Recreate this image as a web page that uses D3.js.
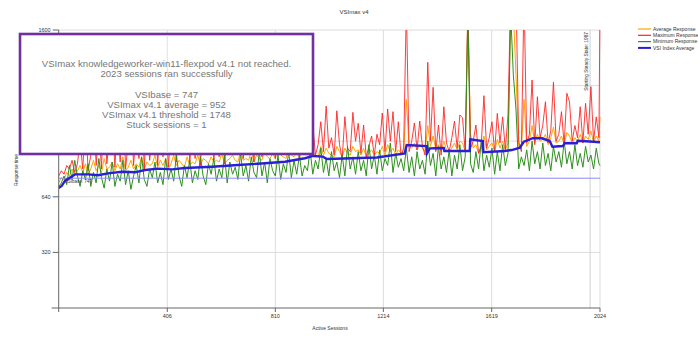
<!DOCTYPE html>
<html><head><meta charset="utf-8">
<script src="https://cdn.jsdelivr.net/npm/d3@7"></script>
<style>html,body{margin:0;padding:0;background:#fff;}svg{display:block;font-family:"Liberation Sans",Arial,sans-serif;}</style>
</head><body>
<svg id="chart" width="698" height="338"></svg>
<script>
// ---- data ----
const sessions = d3.range(0, 2021, 10).concat([2024]);
const maxResp = [
 760, 790, 770, 820, 800, 850, 780, 830, 960, 800,
 1100, 790, 880, 1200, 820, 1050, 800, 1250, 830, 990,
 1150, 810, 1080, 840, 1300, 800, 960, 1180, 820, 1050,
 860, 1240, 800, 1120, 850, 1000, 1270, 820, 1090, 870,
 1190, 810, 1030, 1300, 840, 1110, 880, 980, 1230, 830,
 1060, 860, 1280, 820, 1140, 900, 1010, 1210, 850, 1080,
 870, 1260, 830, 996, 880, 1170, 900, 928, 1290, 860,
 1050, 890, 1220, 840, 1110, 957, 870, 1300, 900, 1020,
 1180, 860, 1250, 900, 1090, 880, 1310, 910, 1040, 1200,
 870, 1150, 920, 1280, 890, 1060, 880, 940, 1072, 900,
 1162, 920, 980, 880, 1135, 940, 860, 1101, 920, 900,
 1126, 960, 1063, 890, 1053, 870, 930, 990, 880, 1000,
 940, 1122, 900, 1145, 960, 1130, 900, 1072, 880, 920,
 1750, 900, 960, 1065, 910, 1076, 930, 880, 1414, 960,
 1270, 900, 1053, 880, 1158, 950, 900, 980, 1076, 920,
 1111, 1095, 900, 1750, 920, 960, 1053, 890, 940, 1222,
 920, 980, 1072, 900, 1120, 950, 1100, 910, 1110, 1800,
 1800, 1800, 960, 900, 1800, 950, 1000, 1312, 940, 1216,
 980, 1050, 1187, 950, 1020, 1299, 960, 1000, 1130, 940,
 1236, 1187, 960, 1050, 980, 1158, 950, 1178, 1000, 1274,
 960, 1100, 980, 1750];
const avgResp = [
 720, 750, 740, 780, 760, 800, 770, 790, 820, 780,
 830, 770, 800, 850, 790, 820, 780, 860, 800, 810,
 840, 790, 830, 800, 870, 790, 810, 850, 800, 830,
 810, 870, 800, 840, 820, 830, 880, 810, 850, 820,
 860, 800, 830, 880, 820, 850, 830, 810, 870, 820,
 840, 830, 880, 820, 860, 850, 830, 870, 840, 850,
 840, 890, 830, 850, 860, 880, 850, 840, 900, 850,
 860, 850, 900, 840, 880, 860, 850, 910, 870, 860,
 890, 860, 910, 880, 870, 860, 920, 880, 870, 900,
 860, 910, 890, 920, 870, 900, 880, 870, 930, 880,
 920, 890, 880, 870, 930, 900, 870, 920, 890, 880,
 930, 900, 910, 880, 920, 870, 890, 910, 880, 900,
 890, 930, 880, 940, 900, 920, 880, 910, 890, 900,
 1200, 930, 920, 950, 910, 940, 920, 900, 1050, 930,
 990, 910, 940, 900, 960, 910, 900, 920, 950, 910,
 960, 950, 900, 1700, 1000, 920, 940, 890, 920, 990,
 910, 930, 950, 900, 970, 920, 960, 910, 950, 1700,
 1700, 1340, 930, 920, 1200, 930, 960, 1050, 950, 1000,
 960, 970, 1000, 940, 980, 1040, 950, 960, 990, 940,
 1010, 990, 950, 980, 960, 1000, 950, 990, 970, 1020,
 950, 990, 960, 1100];
const minResp = [
 698, 720, 760, 710, 820, 740, 850, 760, 700, 790,
 740, 830, 700, 780, 720, 860, 750, 690, 800, 730,
 840, 700, 770, 730, 850, 710, 790, 683, 760, 820,
 720, 870, 740, 700, 800, 750, 840, 720, 780, 710,
 860, 740, 800, 730, 880, 760, 700, 820, 750, 850,
 720, 790, 740, 870, 760, 710, 830, 770, 860, 730,
 800, 750, 880, 720, 840, 770, 810, 740, 890, 760,
 820, 730, 870, 780, 750, 900, 760, 840, 720, 860,
 790, 760, 880, 740, 830, 780, 900, 750, 850, 770,
 880, 760, 820, 790, 910, 770, 850, 800, 920, 780,
 860, 760, 900, 790, 840, 750, 880, 760, 930, 800,
 870, 770, 900, 790, 850, 760, 940, 800, 880, 770,
 910, 790, 860, 820, 950, 780, 890, 810, 860, 790,
 920, 780, 870, 760, 900, 800, 850, 770, 960, 820,
 890, 760, 930, 800, 870, 780, 910, 760, 880, 800,
 940, 790, 870, 1700, 830, 780, 900, 800, 960, 790,
 880, 810, 920, 770, 900, 790, 940, 820, 890, 1700,
 1340, 1140, 800, 870, 820, 910, 790, 960, 830, 900,
 800, 950, 820, 890, 790, 930, 840, 900, 810, 960,
 830, 900, 800, 940, 820, 890, 810, 930, 840, 880,
 800, 920, 830, 820];
const vsiSessions = [0, 11, 24, 61, 110, 147, 184, 237, 285, 323, 371, 424, 472, 573, 670, 771, 846, 883, 921, 951, 988, 1003, 1190, 1294, 1301, 1376, 1377, 1388, 1440, 1442, 1537, 1539, 1586, 1588, 1668, 1694, 1724, 1739, 1773, 1807, 1836, 1846, 1885, 1892, 1937, 1941, 1986, 2024];
const vsiAvg = [690, 702, 733, 769, 769, 764, 775, 784, 781, 794, 802, 798, 806, 813, 823, 833, 842, 852, 862, 875, 871, 858, 866, 890, 938, 932, 890, 919, 921, 904, 904, 971, 961, 896, 904, 909, 923, 957, 977, 977, 961, 928, 932, 948, 948, 963, 958, 954];
const yTicks = [320, 640, 960, 1280, 1600];
const xTicks = [406, 810, 1214, 1619, 2024];
const vsiBase = 747;
const steadyState = 1987;
const seriesNames = ["Average Response", "Maximum Response", "Minimum Response", "VSI Index Average"];
const seriesColors = ["#ffa500", "#ff2222", "#2e8f1e", "#2a1ed8"];
const boxLines = ["VSImax knowledgeworker-win11-flexpod v4.1 not reached.", "2023 sessions ran successfully", "", "VSIbase = 747", "VSImax v4.1 average = 952", "VSImax v4.1 threshold = 1748", "Stuck sessions = 1"];

// ---- chart ----
const svg = d3.select("#chart");
const x = d3.scaleLinear().domain([0, 2024]).range([58.7, 600]);
const y = d3.scaleLinear().domain([0, 1600]).range([308, 30]);

svg.append("rect").attr("width", 698).attr("height", 338).attr("fill", "#fff");

svg.append("text").attr("x", 354).attr("y", 14).attr("text-anchor", "middle")
  .attr("font-size", 6).attr("fill", "#333").text("VSImax v4");

const grid = svg.append("g");
grid.selectAll(".hg").data(yTicks).join("line")
  .attr("x1", x(0)).attr("x2", x(2024)).attr("y1", d => y(d)).attr("y2", d => y(d))
  .attr("stroke", "#dcdcdc").attr("stroke-width", 1);
grid.selectAll(".vg").data(xTicks).join("line")
  .attr("x1", d => x(d)).attr("x2", d => x(d)).attr("y1", y(1600)).attr("y2", y(0))
  .attr("stroke", "#dcdcdc").attr("stroke-width", 1);
grid.append("line").attr("x1", x(steadyState)).attr("x2", x(steadyState))
  .attr("y1", y(1600)).attr("y2", y(0)).attr("stroke", "#d0d0d0").attr("stroke-width", 1);

svg.append("clipPath").attr("id", "clip").append("rect")
  .attr("x", x(0)).attr("y", y(1600)).attr("width", x(2024) - x(0) + 1).attr("height", y(0) - y(1600));

const plot = svg.append("g").attr("clip-path", "url(#clip)");
const line = arr => d3.line().x((d, i) => x(sessions[i])).y(d => y(d))(arr);

plot.append("path").attr("d", line(avgResp)).attr("fill", "none")
  .attr("stroke", seriesColors[0]).attr("stroke-width", 1);
plot.append("path").attr("d", line(maxResp)).attr("fill", "none")
  .attr("stroke", seriesColors[1]).attr("stroke-width", 1).attr("stroke-opacity", 0.88);
plot.append("path").attr("d", line(minResp)).attr("fill", "none")
  .attr("stroke", seriesColors[2]).attr("stroke-width", 1);
plot.append("line").attr("x1", x(0)).attr("x2", x(2024)).attr("y1", y(vsiBase)).attr("y2", y(vsiBase))
  .attr("stroke", "#8a8aff").attr("stroke-width", 1);
plot.append("path")
  .attr("d", d3.line().x((d, i) => x(vsiSessions[i])).y(d => y(d))(vsiAvg))
  .attr("fill", "none").attr("stroke", seriesColors[3]).attr("stroke-width", 2.4);

svg.append("text").attr("x", x(0) + 6).attr("y", y(vsiBase) + 5)
  .attr("font-size", 4.5).attr("fill", "#333").text("VSIbase: 747");

svg.append("text").attr("transform", `translate(${x(steadyState) - 2},${y(1600) + 2}) rotate(-90)`)
  .attr("text-anchor", "end").attr("font-size", 4.8).attr("fill", "#333")
  .text("Starting Steady State: 1987");

const ax = svg.append("g").attr("stroke", "#666");
ax.append("line").attr("x1", x(0)).attr("x2", x(0)).attr("y1", y(1600)).attr("y2", y(0));
ax.append("line").attr("x1", x(0) - 7).attr("x2", x(2024)).attr("y1", y(0)).attr("y2", y(0));
ax.selectAll(".yt").data(yTicks).join("line")
  .attr("x1", x(0) - 6).attr("x2", x(0)).attr("y1", d => y(d)).attr("y2", d => y(d));
ax.selectAll(".xt").data(xTicks.concat([0])).join("line")
  .attr("x1", d => x(d)).attr("x2", d => x(d)).attr("y1", y(0)).attr("y2", y(0) + 4);

svg.selectAll(".ytl").data(yTicks).join("text")
  .attr("x", x(0) - 8).attr("y", d => y(d) + 2).attr("text-anchor", "end")
  .attr("font-size", 5.5).attr("fill", "#333").text(d => d);
svg.selectAll(".xtl").data(xTicks).join("text")
  .attr("x", d => x(d)).attr("y", y(0) + 10).attr("text-anchor", "middle")
  .attr("font-size", 5.5).attr("fill", "#333").text(d => d);

svg.append("text").attr("x", 330).attr("y", 330).attr("text-anchor", "middle")
  .attr("font-size", 5).attr("fill", "#333").text("Active Sessions");
svg.append("text").attr("transform", "translate(18,170) rotate(-90)").attr("text-anchor", "middle")
  .attr("font-size", 4.8).attr("fill", "#333").text("Response time");

const lg = svg.append("g").attr("transform", "translate(638,29)");
seriesNames.forEach((n, i) => {
  lg.append("line").attr("x1", 0).attr("x2", 13).attr("y1", i * 6.3).attr("y2", i * 6.3)
    .attr("stroke", seriesColors[i]).attr("stroke-width", i === 3 ? 2 : 1.2);
  lg.append("text").attr("x", 15).attr("y", i * 6.3 + 1.8).attr("font-size", 5)
    .attr("fill", "#333").text(n);
});

const box = svg.append("g");
box.append("rect").attr("x", 20).attr("y", 34).attr("width", 293).attr("height", 120)
  .attr("fill", "#fff").attr("stroke", "#7030a0").attr("stroke-width", 2.6);
box.append("line").attr("x1", x(406)).attr("x2", x(406)).attr("y1", 35.5).attr("y2", 152.5)
  .attr("stroke", "#e2e2e2").attr("stroke-width", 1);
box.selectAll(".bl").data(boxLines).join("text")
  .attr("x", 166.5).attr("y", (d, i) => 67 + i * 10.2).attr("text-anchor", "middle")
  .attr("font-size", 9.6).attr("fill", "#777").text(d => d);
</script>
</body></html>
